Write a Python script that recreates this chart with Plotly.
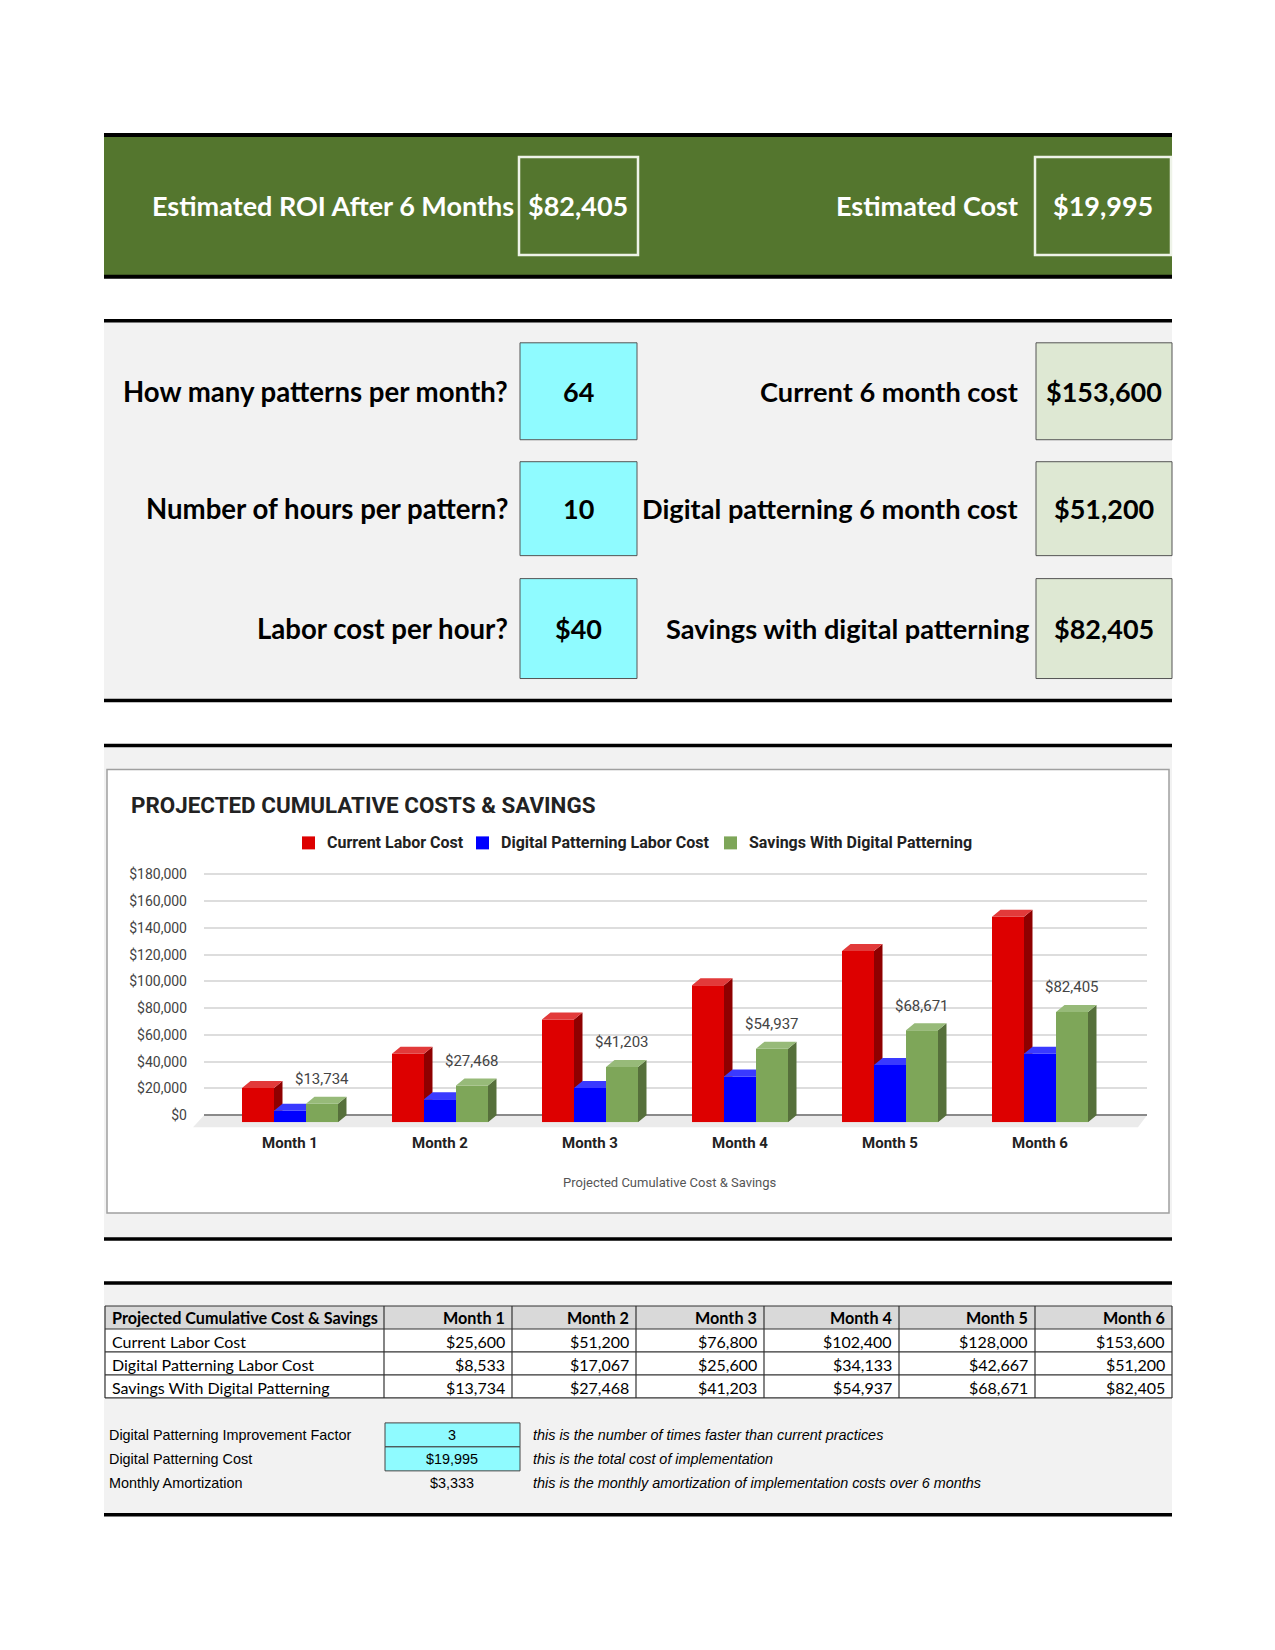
import plotly.graph_objects as go

# ---------------- data ----------------
months = ["Month 1", "Month 2", "Month 3", "Month 4", "Month 5", "Month 6"]
current_cost = [25600, 51200, 76800, 102400, 128000, 153600]
digital_cost = [8533, 17067, 25600, 34133, 42667, 51200]
savings = [13734, 27468, 41203, 54937, 68671, 82405]
series_names = ["Current Labor Cost", "Digital Patterning Labor Cost", "Savings With Digital Patterning"]
table_title = "Projected Cumulative Cost & Savings"

banner_labels = ["Estimated ROI After 6 Months", "Estimated Cost"]
banner_values = ["$82,405", "$19,995"]

input_labels = ["How many patterns per month?", "Number of hours per pattern?", "Labor cost per hour?"]
input_values = ["64", "10", "$40"]
output_labels = ["Current 6 month cost", "Digital patterning 6 month cost", "Savings with digital patterning"]
output_values = ["$153,600", "$51,200", "$82,405"]

param_labels = ["Digital Patterning Improvement Factor", "Digital Patterning Cost", "Monthly Amortization"]
param_values = ["3", "$19,995", "$3,333"]
param_notes = ["this is the number of times faster than current practices",
               "this is the total cost of implementation",
               "this is the monthly amortization of implementation costs over 6 months"]

chart_title = "PROJECTED CUMULATIVE COSTS & SAVINGS"
x_title = "Projected Cumulative Cost & Savings"
y_ticks = list(range(0, 180001, 20000))
y_ticktext = [f"${v:,}" for v in y_ticks]

# ---------------- layout helpers ----------------
OFF = 8          # page body margin
YSCALE = 0.9928  # vertical calibration of the captured page
YOFF = 4
W, H = 1275 - 2 * OFF, 1650 - 4 * OFF
def px(x): return (x - OFF) / W
def py(y): return 1 - (y / YSCALE - YOFF - OFF) / H

LEFT, RIGHT = 104, 1172
shapes, annots = [], []

def rect(x0, y0, x1, y1, fill, line="rgba(0,0,0,0)", lw=0, layer="below"):
    shapes.append(dict(type="rect", xref="paper", yref="paper", x0=px(x0), x1=px(x1),
                       y0=py(y1), y1=py(y0), fillcolor=fill, line=dict(color=line, width=lw), layer=layer))

def hline(y, w=4, x0=LEFT, x1=RIGHT, color="#000000"):
    shapes.append(dict(type="line", xref="paper", yref="paper", x0=px(x0), x1=px(x1),
                       y0=py(y), y1=py(y), line=dict(color=color, width=w), layer="below"))

def vline(x, y0, y1, w=1, color="#444444"):
    shapes.append(dict(type="line", xref="paper", yref="paper", x0=px(x), x1=px(x),
                       y0=py(y0), y1=py(y1), line=dict(color=color, width=w), layer="below"))

def text(x, y, s, size, color="#000", family="Lato", anchor="center", bold=False, italic=False):
    if bold: s = "<b>" + s + "</b>"
    if italic: s = "<i>" + s + "</i>"
    annots.append(dict(x=px(x), y=py(y), xref="paper", yref="paper", text=s, showarrow=False,
                       xanchor=anchor, yanchor="middle", font=dict(family=family, size=size, color=color)))

# ---------------- section 1: banner ----------------
GREEN = "#54762e"
rect(LEFT, 134, RIGHT, 276, GREEN)
hline(134); hline(276)
rect(519, 156, 638, 254, "rgba(0,0,0,0)", "#eef3e8", 2.5)
rect(1035, 156, 1171, 254, "rgba(0,0,0,0)", "#eef3e8", 2.5)
text(516, 205, banner_labels[0], 27, "#ffffff", anchor="right", bold=True)
text(578, 205, banner_values[0], 27, "#ffffff", bold=True)
text(1020, 205, banner_labels[1], 27, "#ffffff", anchor="right", bold=True)
text(1103, 205, banner_values[1], 27, "#ffffff", bold=True)

# ---------------- section 2: inputs ----------------
rect(LEFT, 320, RIGHT, 700, "#f2f2f2")
hline(320, 3.5); hline(700, 3.5)
rows = [(342, 439), (461, 555), (578, 678)]
label_right = [1020, 1020, 1031]
for k, (t, b) in enumerate(rows):
    cy = (t + b) / 2
    rect(520, t, 637, b, "#8ffbff", "#555555", 1)
    rect(1036, t, 1172, b, "#dee8d3", "#555555", 1)
    text(510, cy, input_labels[k], 27.6, anchor="right", bold=True)
    text(578.5, cy, input_values[k], 27, bold=True)
    text(label_right[k], cy, output_labels[k], 27.2, anchor="right", bold=True)
    text(1104, cy, output_values[k], 27, bold=True)

# ---------------- section 3: chart ----------------
rect(LEFT, 745, RIGHT, 1239, "#f2f2f2")
hline(745, 3.5); hline(1239, 3.5)
rect(107, 769, 1169, 1213, "#ffffff", "#a0a0a0", 1.5)
# 3D floor
shapes.append(dict(type="path", xref="paper", yref="paper",
                   path=f"M {px(204)},{py(1115)} L {px(1147)},{py(1115)} L {px(1138)},{py(1127)} L {px(193)},{py(1127)} Z",
                   fillcolor="#ebebeb", line=dict(width=0), layer="below"))
text(129, 805, chart_title, 22.4, "#222222", family="Roboto", anchor="left", bold=True)
text(670, 1182, x_title, 13, "#555555", family="Roboto")

# geometry (pixels) of the pseudo-3D chart
PX_PER_CAT = 150.0
FIRST_CENTER = 290.0
DEPTH_X, DEPTH_Y = 8.5, 7.0          # pixel depth of the 3D extrusion
BACK_X0, BACK_X1 = 204, 1147
BACK_Y0, BACK_Y180 = 1115, 874       # y pixel of 0 and of 180000
YMAX = 180000
px_per_val = (BACK_Y0 - BACK_Y180) / YMAX
YTOP = 182000                        # a little headroom so the top gridline shows
BACK_Y1 = BACK_Y0 - YTOP * px_per_val
FRONT_X0, FRONT_X1 = BACK_X0 - DEPTH_X, BACK_X1 - DEPTH_X
FRONT_Y0, FRONT_Y1 = BACK_Y0 + DEPTH_Y, BACK_Y1 + DEPTH_Y
x2_range = [(FRONT_X0 - FIRST_CENTER) / PX_PER_CAT, (FRONT_X1 - FIRST_CENTER) / PX_PER_CAT]
dx = DEPTH_X / PX_PER_CAT
dy = DEPTH_Y / px_per_val
bw = 32.0 / PX_PER_CAT

front_cols = ["#dd0000", "#0000ff", "#7ea659"]
top_cols = ["#e23a3a", "#3a3aff", "#97ba79"]
side_cols = ["#8e0000", "#0000a8", "#56703b"]
series = [current_cost, digital_cost, savings]
offsets = [-bw, 0.0, bw]

fig = go.Figure()
# anchor trace for the back (gridline) subplot
fig.add_trace(go.Scatter(x=[0.5], y=[0], mode="markers", marker=dict(opacity=0), xaxis="x", yaxis="y",
                         showlegend=False, hoverinfo="skip"))
for s in range(3):
    fig.add_trace(go.Bar(x=[i + offsets[s] for i in range(len(months))], y=series[s], width=bw,
                         name=series_names[s], marker=dict(color=front_cols[s], line=dict(width=0)),
                         xaxis="x2", yaxis="y2", hoverinfo="y", showlegend=False))

for s in range(3):
    tx, ty, sx, sy = [], [], [], []
    for i in range(len(months)):
        v = series[s][i]
        x0 = i + offsets[s] - bw / 2
        x1 = x0 + bw
        nv = series[s + 1][i] if s < 2 else None
        if nv is not None and nv > v:
            tx += [x0, x1, x1, x0 + dx, x0, None]
            ty += [v, v, v + dy, v + dy, v, None]
        else:
            tx += [x0, x1, x1 + dx, x0 + dx, x0, None]
            ty += [v, v, v + dy, v + dy, v, None]
        if nv is None:
            sx += [x1, x1, x1 + dx, x1 + dx, x1, None]
            sy += [0, v, v + dy, dy, 0, None]
        elif v > nv:
            sx += [x1, x1, x1 + dx, x1 + dx, x1, None]
            sy += [nv, v, v + dy, nv, nv, None]
    fig.add_trace(go.Scatter(x=sx, y=sy, mode="lines", fill="toself", fillcolor=side_cols[s],
                             line=dict(width=0), xaxis="x2", yaxis="y2", showlegend=False, hoverinfo="skip"))
    fig.add_trace(go.Scatter(x=tx, y=ty, mode="lines", fill="toself", fillcolor=top_cols[s],
                             line=dict(width=0), xaxis="x2", yaxis="y2", showlegend=False, hoverinfo="skip"))

for i, v in enumerate(savings):
    annots.append(dict(x=i + offsets[2], y=v, xref="x2", yref="y2", text=f"${v:,}", showarrow=False,
                       yshift=DEPTH_Y + 17.6, yanchor="middle", xanchor="center",
                       font=dict(family="Roboto", size=15, color="#444444")))

# legend (swatches + labels)
legend_sq_x = [302, 476, 724]
for s in range(3):
    rect(legend_sq_x[s], 836, legend_sq_x[s] + 13, 849, front_cols[s])
    text(legend_sq_x[s] + 23, 842.5, series_names[s], 16, "#222222", family="Roboto", anchor="left", bold=True)

# ---------------- section 4: table ----------------
rect(LEFT, 1283, RIGHT, 1515, "#f2f2f2")
hline(1283, 3.5); hline(1515, 3.5)
col_x = [105, 384, 512, 636, 764, 899, 1035, 1172]
row_y = [1306, 1329, 1352, 1375, 1398]
rect(col_x[0], row_y[0], col_x[-1], row_y[1], "#d9d9d9")
rect(col_x[0], row_y[1], col_x[-1], row_y[-1], "#ffffff")
for yy in row_y:
    hline(yy, 1.2, col_x[0], col_x[-1], "#333333")
for xx in col_x:
    vline(xx, row_y[0], row_y[-1], 1.2, "#333333")
fmt = lambda v: f"${v:,}"
table_rows = [[fmt(v) for v in arr] for arr in series]
PAD = 5
text(col_x[0] + PAD, (row_y[0] + row_y[1]) / 2, table_title, 16.2, anchor="left", bold=True)
for j, m in enumerate(months):
    text(col_x[j + 2] - PAD, (row_y[0] + row_y[1]) / 2, m, 16.2, anchor="right", bold=True)
for r in range(3):
    cy = (row_y[r + 1] + row_y[r + 2]) / 2 + 1
    text(col_x[0] + PAD, cy, series_names[r], 16, anchor="left")
    for j in range(6):
        text(col_x[j + 2] - PAD, cy, table_rows[r][j], 16, anchor="right")

prow = [1435, 1459, 1483]
rect(385, 1423, 520, 1447, "#8ffbff", "#444444", 1)
rect(385, 1447, 520, 1471, "#8ffbff", "#444444", 1)
for k in range(3):
    text(107, prow[k], param_labels[k], 14.4, "#000", family="Liberation Sans", anchor="left")
    text(452, prow[k], param_values[k], 14.4, "#000", family="Liberation Sans")
    text(531, prow[k], param_notes[k], 14.4, "#000", family="Liberation Sans", anchor="left", italic=True)

# ---------------- layout ----------------
fig.update_layout(
    width=W, height=H, margin=dict(l=0, r=0, t=0, b=0),
    paper_bgcolor="#ffffff", plot_bgcolor="rgba(0,0,0,0)",
    barmode="overlay", shapes=shapes, annotations=annots, showlegend=False,
    xaxis=dict(domain=[px(BACK_X0), px(BACK_X1)], range=[0, 1], visible=False, fixedrange=True),
    yaxis=dict(domain=[py(BACK_Y0), py(BACK_Y1)], range=[0, YTOP], tickvals=y_ticks, ticktext=y_ticktext,
               showgrid=True, gridcolor="#dddddd", gridwidth=1.5,
               zeroline=True, zerolinecolor="#8a8a8a", zerolinewidth=1.5, showline=False, ticks="",
               ticklabelstandoff=16, tickfont=dict(family="Roboto", size=14, color="#444444"),
               anchor="x", fixedrange=True),
    xaxis2=dict(domain=[px(FRONT_X0), px(FRONT_X1)], range=x2_range, tickvals=list(range(len(months))),
                ticktext=months, showgrid=False, zeroline=False, showline=False, ticks="",
                ticklabelstandoff=10, tickfont=dict(family="Roboto", size=15, color="#222222", weight="bold"),
                anchor="y2", fixedrange=True),
    yaxis2=dict(domain=[py(FRONT_Y0), py(FRONT_Y1)], range=[0, YTOP], visible=False, anchor="x2",
                fixedrange=True),
)

fig.write_html("out.html")
